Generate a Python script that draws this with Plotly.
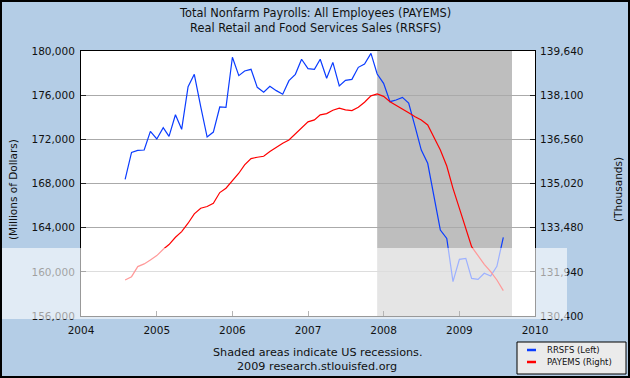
import pandas as pd
import plotly.graph_objects as go

# ---- data (monthly, Aug 2004 - Aug 2009) ----
start_month = "2004-08-01"
n_months = 61

rrsfs = [  # Real Retail and Food Services Sales, millions of dollars (left axis)
    168380, 170820, 171000, 171030, 172720,
    172030, 173060, 172270, 174230, 172910, 176770, 177890, 174960, 172210, 172660, 174930, 174900,
    179430, 177770, 178190, 178340, 176710, 176260, 176800, 176410, 176080, 177310, 177890, 179250,
    178400, 178340, 179250, 177530, 178970, 176830, 177340, 177430, 178520, 178820, 179790, 177920,
    177070, 175410, 175560, 175800, 175290, 173150, 171030, 169830, 166810, 163790, 163030, 159110,
    161130, 161220, 159410, 159320, 159870, 159620, 160500, 163120,
]
payems = [  # Total Nonfarm Payrolls, thousands (right axis)
    131655, 131771, 132123, 132216, 132356,
    132507, 132728, 132891, 133146, 133344, 133635, 133960, 134158, 134216, 134333, 134704, 134855,
    135122, 135378, 135668, 135889, 135936, 135970, 136133, 136284, 136424, 136540, 136749, 136982,
    137168, 137238, 137412, 137458, 137575, 137645, 137586, 137563, 137680, 137854, 138075, 138145,
    138059, 137873, 137757, 137606, 137490, 137350, 137234, 137060, 136630, 136188, 135630, 134851,
    134154, 133456, 132817, 132503, 132201, 131945, 131655, 131283,
]
dates = pd.date_range(start_month, periods=n_months, freq="MS")

left_ticks = [156000, 160000, 164000, 168000, 172000, 176000, 180000]
right_ticks = [130400, 131940, 133480, 135020, 136560, 138100, 139640]
x_ticks = ["2004-01-01", "2005-01-01", "2006-01-01", "2007-01-01", "2008-01-01", "2009-01-01", "2010-01-01"]
x_tick_labels = ["2004", "2005", "2006", "2007", "2008", "2009", "2010"]
recession = ("2007-12-01", "2009-09-12")

title_lines = ["Total Nonfarm Payrolls: All Employees (PAYEMS)",
               "Real Retail and Food Services Sales (RRSFS)"]
footer_lines = ["Shaded areas indicate US recessions.", "2009 research.stlouisfed.org"]
legend_labels = ["RRSFS (Left)", "PAYEMS (Right)"]

# ---- layout geometry ----
W, H = 630, 378
L, R, T, B = 81, 95, 51, 62
PW, PH = W - L - R, H - T - B
BLUE, RED = "#0A3CFF", "#FF0000"
BG = "#B4CDE6"
FONT = "DejaVu Sans"


def xp(px):
    return (px - L) / PW


def yp(py):
    return (H - B - py) / PH


fig = go.Figure()
fig.add_trace(go.Scatter(x=dates, y=rrsfs, mode="lines", name=legend_labels[0],
                         line=dict(color=BLUE, width=1.2), yaxis="y"))
fig.add_trace(go.Scatter(x=dates, y=payems, mode="lines", name=legend_labels[1],
                         line=dict(color=RED, width=1.2), yaxis="y2"))

shapes = [
    dict(type="rect", xref="x", yref="paper", x0=recession[0], x1=recession[1], y0=0, y1=1,
         fillcolor="#BEBEBE", line=dict(width=0), layer="between"),
    # faint white band
    dict(type="rect", xref="paper", yref="paper", x0=xp(0), x1=xp(567), y0=yp(319), y1=yp(248),
         fillcolor="rgba(255,255,255,0.6)", line=dict(width=0), layer="above"),
    # legend box
    dict(type="rect", xref="paper", yref="paper", x0=xp(517), x1=xp(626), y0=yp(374), y1=yp(342),
         fillcolor="#EBEBEB", line=dict(color="black", width=1), layer="above"),
    dict(type="line", xref="paper", yref="paper", x0=xp(527), x1=xp(536), y0=yp(350), y1=yp(350),
         line=dict(color=BLUE, width=2.5), layer="above"),
    dict(type="line", xref="paper", yref="paper", x0=xp(527), x1=xp(536), y0=yp(362), y1=yp(362),
         line=dict(color=RED, width=2.5), layer="above"),
    # outer border
    dict(type="rect", xref="paper", yref="paper", x0=xp(1), x1=xp(629), y0=yp(377), y1=yp(1),
         fillcolor="rgba(0,0,0,0)", line=dict(color="black", width=2), layer="above"),
]

annotations = []
for i, t in enumerate(title_lines):
    annotations.append(dict(text=t, x=xp(315), y=yp(13.5 + 15 * i), xref="paper", yref="paper",
                            showarrow=False, xanchor="center", yanchor="middle",
                            font=dict(family=FONT, size=11.4, color="#111")))
for i, t in enumerate(footer_lines):
    annotations.append(dict(text=t, x=xp(317), y=yp(352 + 14 * i), xref="paper", yref="paper",
                            showarrow=False, xanchor="center", yanchor="middle",
                            font=dict(family=FONT, size=11.2, color="#111")))
annotations.append(dict(text="(Millions of Dollars)", x=xp(13), y=yp(190), xref="paper", yref="paper",
                        showarrow=False, textangle=-90, xanchor="center", yanchor="middle",
                        font=dict(family=FONT, size=10.5, color="#111")))
annotations.append(dict(text="(Thousands)", x=xp(618), y=yp(190), xref="paper", yref="paper",
                        showarrow=False, textangle=-90, xanchor="center", yanchor="middle",
                        font=dict(family=FONT, size=10.5, color="#111")))
for i, t in enumerate(legend_labels):
    annotations.append(dict(text=t, x=xp(545), y=yp(350 + 12 * i), xref="paper", yref="paper",
                            showarrow=False, xanchor="left", yanchor="middle",
                            font=dict(family=FONT, size=8.5, color="#111")))

axis_font = dict(family=FONT, size=10.5, color="#111")
fig.update_layout(
    width=W, height=H, autosize=False,
    margin=dict(l=L, r=R, t=T, b=B, pad=0),
    paper_bgcolor=BG, plot_bgcolor="white",
    showlegend=False,
    xaxis=dict(type="date", range=["2004-01-01", "2010-01-01"], tickvals=x_ticks, ticktext=x_tick_labels,
               ticks="inside", ticklen=5, tickcolor="#444", showgrid=False, showline=True,
               linecolor="black", linewidth=1, mirror=True, tickfont=axis_font, zeroline=False,
               ticklabelstandoff=4),
    yaxis=dict(range=[156000, 180000], tickvals=left_ticks, tickformat=",d", ticks="inside",
               ticklen=5, tickcolor="#222", showgrid=True, gridcolor="#AAAAAA", gridwidth=1,
               showline=True, linecolor="black", linewidth=1, tickfont=axis_font, zeroline=False,
               ticklabelstandoff=3),
    yaxis2=dict(range=[130400, 139640], tickvals=right_ticks, tickformat=",d", overlaying="y",
                side="right", ticks="inside", ticklen=5, tickcolor="#222", showgrid=False,
                showline=True, linecolor="black", linewidth=1, tickfont=axis_font, zeroline=False,
                ticklabelstandoff=2),
    shapes=shapes, annotations=annotations,
)

fig.write_html("out.html", config={"displayModeBar": False, "staticPlot": True},
               post_script="document.body.style.margin='0';document.body.style.overflow='hidden';")
